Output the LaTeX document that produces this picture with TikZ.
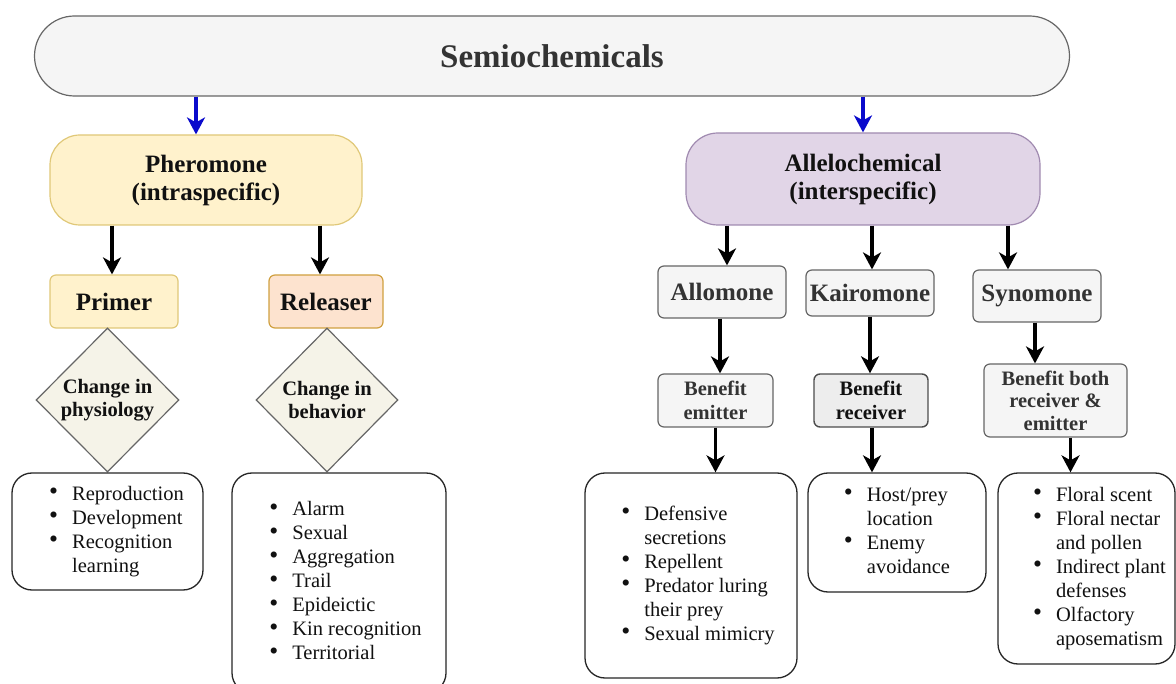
\documentclass[tikz,border=0pt]{standalone}
\usepackage{fontspec}
\setmainfont{Liberation Serif}
\usetikzlibrary{shapes.geometric,arrows.meta,calc}
\definecolor{greyfill}{HTML}{F5F5F5}
\definecolor{greyline}{HTML}{666666}
\definecolor{yelfill}{HTML}{FFF2CC}
\definecolor{yelline}{HTML}{E0C878}
\definecolor{peachfill}{HTML}{FDE3CF}
\definecolor{peachline}{HTML}{D0A040}
\definecolor{purfill}{HTML}{E1D5E7}
\definecolor{purline}{HTML}{A08AB0}
\definecolor{diafill}{HTML}{F5F3E8}
\definecolor{recfill}{HTML}{EDEDED}
\definecolor{txt}{HTML}{111111}
\definecolor{bluearr}{HTML}{0A0ACC}
\newcommand{\bl}{\raisebox{0.5pt}{\scalebox{1.25}{\textbullet}}}
\begin{document}
\begin{tikzpicture}[x=1pt,y=-1pt,
  every node/.style={text=txt, inner sep=0pt},
  headfont/.style={font=\bfseries\fontsize{25}{28}\selectfont, align=center},
  smallhead/.style={font=\bfseries\fontsize{20.5}{23.5}\selectfont, align=center},
  listfont/.style={font=\fontsize{20.5}{24}\selectfont},
  greybox/.style={draw=greyline, fill=greyfill, line width=1.2pt, rounded corners=6pt},
  listbox/.style={draw=black!85, fill=white, line width=1.3pt, rounded corners=20pt, listfont},
  dia/.style={shape=diamond, draw=greyline, fill=diafill, line width=1.2pt, smallhead},
  arr/.style={draw=black, line width=3.2pt, -{Stealth[length=17pt,width=18pt,inset=5pt]}},
  barr/.style={draw=bluearr, line width=3.2pt, -{Stealth[length=17pt,width=18pt,inset=5pt]}}
]
\useasboundingbox (0,0) rectangle (1176,684);

% top
\node[draw=greyline, fill=greyfill, line width=1.2pt, rounded corners=40pt,
      minimum width=1035pt, minimum height=80pt,
      font=\bfseries\fontsize{33}{36}\selectfont, text=black!80] (semio) at (552,56) {Semiochemicals};

% level 1
\node[draw=yelline, fill=yelfill, line width=1.2pt, rounded corners=30pt,
      minimum width=312pt, minimum height=90pt, headfont] (pher) at (206,180) {Pheromone\\(intraspecific)};
\node[draw=purline, fill=purfill, line width=1.2pt, rounded corners=32pt,
      minimum width=354pt, minimum height=92pt, headfont] (alle) at (863,179) {Allelochemical\\(interspecific)};

% level 2 left
\node[draw=yelline, fill=yelfill, line width=1.2pt, rounded corners=6pt,
      minimum width=128pt, minimum height=53pt, headfont] (primer) at (114,301.5) {Primer};
\node[draw=peachline, fill=peachfill, line width=1.2pt, rounded corners=6pt,
      minimum width=114pt, minimum height=53pt, headfont] (rel) at (326,301.5) {Releaser};

% diamonds
\node[dia, minimum width=143pt, minimum height=144pt] (dphys) at (107.5,400) {Change in\\physiology};
\node[dia, minimum width=142pt, minimum height=144pt] (dbeh) at (327,400) {Change in\\behavior};

% left lists
\node[listbox, minimum width=191pt, minimum height=117pt] (lphys) at (107.5,531.5)
  {\hspace*{18pt}\begin{tabular}{@{}l@{\hspace{14pt}}l@{}}\bl & Reproduction\\ \bl & Development\\ \bl & Recognition\\ & learning\end{tabular}};
\node[listbox, minimum width=214pt, minimum height=220pt] (lbeh) at (339,583)
  {\hspace*{13pt}\begin{tabular}{@{}l@{\hspace{14pt}}l@{}}\bl & Alarm\\ \bl & Sexual\\ \bl & Aggregation\\ \bl & Trail\\ \bl & Epideictic\\ \bl & Kin recognition\\ \bl & Territorial\end{tabular}};

% level 2 right
\node[greybox, minimum width=128pt, minimum height=52pt, headfont, text=black!80] (allo) at (722,292) {Allomone};
\node[greybox, minimum width=128pt, minimum height=46pt, headfont, text=black!80] (kairo) at (870,293) {Kairomone};
\node[greybox, minimum width=128pt, minimum height=52pt, headfont, text=black!80] (syno) at (1037,296) {Synomone};

% level 3 right
\node[greybox, minimum width=115pt, minimum height=53pt, smallhead, text=black!80, font=\bfseries\fontsize{20.5}{24.5}\selectfont] (emit) at (715.5,400.5) {Benefit\\emitter};
\node[draw=black!70, fill=recfill, line width=1.4pt, rounded corners=6pt, minimum width=114pt, minimum height=53pt, smallhead, font=\bfseries\fontsize{20.5}{24.5}\selectfont] (recv) at (871,400.5) {Benefit\\receiver};
\node[greybox, minimum width=143pt, minimum height=73pt, smallhead, text=black!80, font=\bfseries\fontsize{20.5}{22.5}\selectfont] (both) at (1055.5,400.5) {Benefit both\\receiver \&\\emitter};

% right lists
\node[listbox, minimum width=212pt, minimum height=205pt] (lallo) at (691,575.5)
  {\hspace*{14pt}\begin{tabular}{@{}l@{\hspace{14pt}}l@{}}\bl & Defensive\\ & secretions\\ \bl & Repellent\\ \bl & Predator luring\\ & their prey\\ \bl & Sexual mimicry\end{tabular}};
\node[listbox, minimum width=178pt, minimum height=119pt] (lkairo) at (897,532.5)
  {\begin{tabular}{@{}l@{\hspace{14pt}}l@{}}\bl & Host/prey\\ & location\\ \bl & Enemy\\ & avoidance\end{tabular}};
\node[listbox, minimum width=177pt, minimum height=191pt] (lsyno) at (1086.5,568.5)
  {\hspace*{26pt}\begin{tabular}{@{}l@{\hspace{14pt}}l@{}}\bl & Floral scent\\ \bl & Floral nectar\\ & and pollen\\ \bl & Indirect plant\\ & defenses\\ \bl & Olfactory\\ & aposematism\end{tabular}};

% connectors
\draw[barr] (semio.south -| 196,0) -- ([xshift=-10pt]pher.north);
\draw[barr] (semio.south -| alle.north) -- (alle.north);

\draw[arr] (pher.south -| 112,0) -- ([xshift=-2pt]primer.north);
\draw[arr] (pher.south -| 320,0) -- ([xshift=-6pt]rel.north);

\draw[arr] (alle.south -| 727,0) -- ([xshift=5pt]allo.north);
\draw[arr] (alle.south -| 872,0) -- ([xshift=2pt]kairo.north);
\draw[arr] (alle.south -| 1008,0) -- ([xshift=-29pt]syno.north);

\draw[arr] ([xshift=-2pt]allo.south) -- ([xshift=4.5pt]emit.north);
\draw[arr] (kairo.south) -- (kairo.south |- recv.north);
\draw[arr] ([xshift=-2pt]syno.south) -- ([xshift=-2pt]syno.south |- both.north);

\draw[arr] (emit.south) -- (emit.south |- lallo.north);
\draw[arr] ([xshift=1pt]recv.south) -- ([xshift=1pt]recv.south |- lkairo.north);
\draw[arr] ([xshift=15pt]both.south) -- ([xshift=15pt]both.south |- lsyno.north);
\end{tikzpicture}
\end{document}
